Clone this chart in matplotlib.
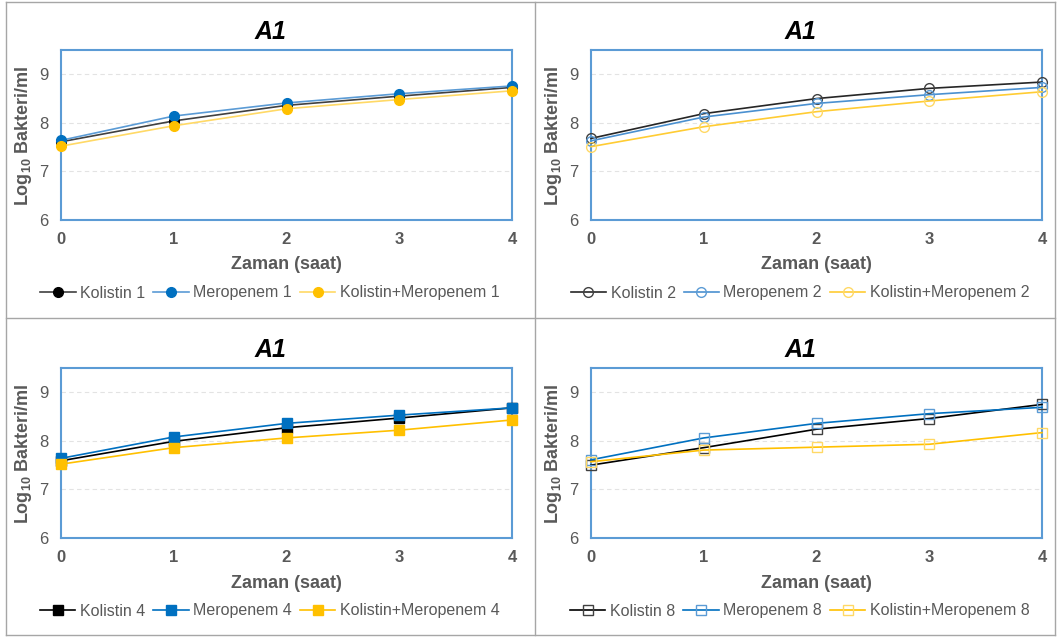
import matplotlib
matplotlib.use("Agg")
import matplotlib.pyplot as plt
from matplotlib.lines import Line2D

plt.rcParams['font.family'] = ['Liberation Sans', 'DejaVu Sans']

W, H = 1059, 637

hours = [0, 1, 2, 3, 4]
doses = ["1", "2", "4", "8"]
series_names = ["Kolistin", "Meropenem", "Kolistin+Meropenem"]

# log10 bacteria/ml, one list per dose
kolistin = {
    "1": [7.61, 8.04, 8.36, 8.55, 8.73],
    "2": [7.68, 8.19, 8.50, 8.71, 8.84],
    "4": [7.59, 7.99, 8.27, 8.47, 8.68],
    "8": [7.50, 7.86, 8.24, 8.46, 8.75],
}
meropenem = {
    "1": [7.64, 8.14, 8.41, 8.60, 8.76],
    "2": [7.63, 8.12, 8.40, 8.58, 8.73],
    "4": [7.64, 8.08, 8.36, 8.53, 8.68],
    "8": [7.61, 8.06, 8.36, 8.56, 8.69],
}
kombinasyon = {
    "1": [7.52, 7.94, 8.29, 8.48, 8.66],
    "2": [7.51, 7.92, 8.23, 8.45, 8.64],
    "4": [7.52, 7.86, 8.06, 8.22, 8.43],
    "8": [7.57, 7.81, 7.87, 7.93, 8.17],
}

dark = ["#000000", "#0070C0", "#FFC000"]
light = ["#404040", "#5B9BD5", "#FFD966"]
grey = "#595959"

# per panel: marker, filled?, line colours, marker colours, panel offset (px)
panels = {
    "1": ("o", True, light, dark, (0, 0)),
    "2": ("o", False, ["#262626", "#4A90D0", "#FFCC33"], light, (530, 0)),
    "4": ("s", True, dark, dark, (0, 318)),
    "8": ("s", False, dark, light, (530, 318)),
}

fig = plt.figure(figsize=(W / 100, H / 100), dpi=100)


def px_axes(x0, y0, x1, y1):
    return fig.add_axes([x0 / W, 1 - y1 / H, (x1 - x0) / W, (y1 - y0) / H])


for dose in doses:
    marker, filled, lcol, mcol, (ox, oy) = panels[dose]
    ax = px_axes(ox + 61, oy + 50, ox + 512, oy + 220)
    data = [kolistin[dose], meropenem[dose], kombinasyon[dose]]
    for i, vals in enumerate(data):
        ax.plot(hours, vals, color=lcol[i], lw=1.2, marker=marker,
                markersize=7 if marker == "o" else 6.5,
                markerfacecolor=mcol[i] if filled else "none",
                markeredgecolor=mcol[i], markeredgewidth=1.0,
                label=f"{series_names[i]} {dose}", clip_on=False, zorder=3)
    ax.set_xlim(0, 4)
    ax.set_ylim(6, 9.5)
    ax.set_xticks(hours)
    ax.set_yticks([6, 7, 8, 9])
    ax.tick_params(axis="both", length=0, labelsize=12, colors=grey, pad=9)
    for t in ax.get_xticklabels():
        t.set_fontweight("bold")
    ax.grid(axis="y", color="#E3E3E3", ls=(0, (4, 3)), lw=0.8)
    for s in ax.spines.values():
        s.set_color("#5B9BD5")
        s.set_linewidth(1.5)

    fig.text((ox + 270) / W, 1 - (oy + 32) / H, "A1", fontsize=18,
             fontweight="bold", style="italic", ha="center", va="center",
             color="black")
    fig.text((ox + 286) / W, 1 - (oy + 265) / H, "Zaman (saat)", fontsize=13,
             fontweight="bold", ha="center", va="center", color=grey)
    fig.text((ox + 24) / W, 1 - (oy + 136) / H,
             r"Log$_{\mathregular{10}}$ Bakteri/ml", fontsize=13,
             fontweight="bold", rotation=90, ha="center", va="center",
             color=grey)
    leg = fig.legend(*ax.get_legend_handles_labels(), loc="center",
                     bbox_to_anchor=((ox + 270) / W, 1 - (oy + 293) / H),
                     ncol=3, frameon=False, fontsize=11.5, handlelength=2.2,
                     handletextpad=0.3, columnspacing=0.5, borderpad=0)
    for t in leg.get_texts():
        t.set_color(grey)

# panel frame lines
frame = "#A6A6A6"
for (x0, y0, x1, y1) in [(6, 2, 1055, 2), (6, 635, 1055, 635), (6, 2, 6, 635),
                         (1055, 2, 1055, 635), (535, 2, 535, 635),
                         (6, 318, 1055, 318)]:
    fig.add_artist(Line2D([x0 / W, x1 / W], [1 - y0 / H, 1 - y1 / H],
                          color=frame, lw=1.0))

fig.savefig("out.png", dpi=100)
